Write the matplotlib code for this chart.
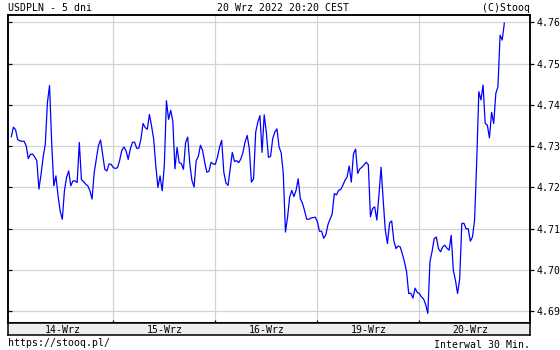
import numpy as np
import matplotlib
matplotlib.use('Agg')
import matplotlib.pyplot as plt

plt.rcParams['font.family'] = ['DejaVu Sans Mono']

# ---- data ----
day_labels = ['14-Wrz', '15-Wrz', '16-Wrz', '19-Wrz', '20-Wrz']
interval_min = 30

d14 = [4.7323, 4.7346, 4.7340, 4.7316, 4.7313, 4.7312, 4.7312, 4.7301, 4.7270, 4.7280,
       4.7281, 4.7274, 4.7265, 4.7196, 4.7232, 4.7274, 4.7305, 4.7406, 4.7447, 4.7309,
       4.7204, 4.7228, 4.7180, 4.7143, 4.7123, 4.7192, 4.7224, 4.7240, 4.7204, 4.7216,
       4.7216, 4.7212, 4.7309, 4.7219, 4.7214, 4.7208, 4.7204, 4.7192, 4.7172, 4.7236,
       4.7269, 4.7301, 4.7315, 4.7279, 4.7244, 4.7240, 4.7257, 4.7256]
d15 = [4.7248, 4.7246, 4.7248, 4.7266, 4.7290, 4.7298, 4.7289, 4.7268, 4.7293, 4.7309,
       4.7310, 4.7295, 4.7295, 4.7317, 4.7355, 4.7345, 4.7341, 4.7377, 4.7349, 4.7317,
       4.7252, 4.7200, 4.7228, 4.7192, 4.7252, 4.7410, 4.7365, 4.7387, 4.7361, 4.7245,
       4.7297, 4.7260, 4.7258, 4.7244, 4.7308, 4.7322, 4.7257, 4.7217, 4.7201, 4.7265,
       4.7275, 4.7302, 4.7290, 4.7261, 4.7237, 4.7239, 4.7261, 4.7257]
d16 = [4.7256, 4.7273, 4.7298, 4.7314, 4.7237, 4.7211, 4.7205, 4.7244, 4.7285, 4.7263,
       4.7265, 4.7260, 4.7269, 4.7285, 4.7310, 4.7326, 4.7294, 4.7213, 4.7221, 4.7334,
       4.7358, 4.7374, 4.7285, 4.7376, 4.7334, 4.7273, 4.7275, 4.7318, 4.7334, 4.7342,
       4.7298, 4.7284, 4.7233, 4.7092, 4.7128, 4.7177, 4.7193, 4.7178, 4.7193, 4.7221,
       4.7173, 4.7162, 4.7144, 4.7123, 4.7123, 4.7126, 4.7127, 4.7128]
d19 = [4.7118, 4.7094, 4.7094, 4.7077, 4.7085, 4.7110, 4.7123, 4.7136, 4.7185, 4.7182,
       4.7193, 4.7195, 4.7205, 4.7217, 4.7225, 4.7252, 4.7213, 4.7281, 4.7293, 4.7234,
       4.7245, 4.7249, 4.7255, 4.7261, 4.7255, 4.7129, 4.7149, 4.7153, 4.7121, 4.7181,
       4.7249, 4.7169, 4.7096, 4.7064, 4.7114, 4.7119, 4.7071, 4.7052, 4.7058, 4.7056,
       4.7039, 4.7020, 4.6996, 4.6943, 4.6944, 4.6932, 4.6956, 4.6946]
d20 = [4.6943, 4.6935, 4.6930, 4.6916, 4.6895, 4.7020, 4.7045, 4.7076, 4.7080, 4.7052,
       4.7044, 4.7056, 4.7060, 4.7053, 4.7048, 4.7084, 4.6999, 4.6975, 4.6943, 4.6979,
       4.7113, 4.7113, 4.7100, 4.7100, 4.7070, 4.7080, 4.7121, 4.7262, 4.7432, 4.7412,
       4.7448, 4.7355, 4.7351, 4.7320, 4.7382, 4.7355, 4.7428, 4.7444, 4.7569, 4.7557,
       4.7598]
series = [d14, d15, d16, d19, d20]
y_ticks = [4.69, 4.70, 4.71, 4.72, 4.73, 4.74, 4.75, 4.76]

values = np.concatenate([np.asarray(s) for s in series])
t = np.arange(len(values)) * interval_min / (24 * 60)  # trading days

W, H = 560, 350
fig = plt.figure(figsize=(W / 100, H / 100), dpi=100)
fig.patch.set_facecolor('white')


def rect(x0, y0, x1, y1):
    return [x0 / W, 1 - y1 / H, (x1 - x0) / W, (y1 - y0) / H]


XLIM = (-0.0294, 5.085)
YLIM = (4.68717, 4.7617)
FS = 7.1

ax = fig.add_axes(rect(8.3, 15.3, 530, 323))
ax.plot(t, values, color='#0000ff', lw=0.9, zorder=3)
ax.set_xlim(*XLIM)
ax.set_ylim(*YLIM)
ax.set_yticks(y_ticks)
ax.set_xticks(np.arange(1, len(series)))
ax.grid(True, color='#d4d4d4', lw=0.9, zorder=0)
ax.tick_params(axis='y', direction='in', length=3, width=0.9, left=True,
               labelleft=False, right=False)
ax.tick_params(axis='x', direction='in', length=2.5, width=0.9, labelbottom=False)
for s in ax.spines.values():
    s.set_linewidth(1.1)

ax2 = ax.twinx()
ax2.set_ylim(*YLIM)
ax2.set_yticks(y_ticks)
ax2.set_yticklabels([f'{v:.2f}' for v in y_ticks])
ax2.tick_params(axis='y', direction='out', length=3, width=0.9, pad=2,
                labelsize=FS)
for s in ax2.spines.values():
    s.set_linewidth(1.1)

band = fig.add_axes(rect(8.3, 323, 530, 335.3))
band.set_facecolor('#eeeeee')
band.set_xlim(*XLIM)
band.set_ylim(0, 1)
band.set_xticks([])
band.set_yticks([])
for s in band.spines.values():
    s.set_linewidth(1.1)
for i, lab in enumerate(day_labels):
    band.text(i + 0.5, 0.19, lab, ha='center', va='baseline', fontsize=FS,
              transform=band.get_xaxis_transform())

fig.text(8.3 / W, 1 - 10.7 / H, 'USDPLN - 5 dni', ha='left', va='baseline', fontsize=FS)
fig.text(283 / W, 1 - 10.7 / H, '20 Wrz 2022 20:20 CEST', ha='center', va='baseline', fontsize=FS)
fig.text(530 / W, 1 - 10.7 / H, '(C)Stooq', ha='right', va='baseline', fontsize=FS)
fig.text(8.3 / W, 1 - 345.5 / H, 'https://stooq.pl/', ha='left', va='baseline', fontsize=FS)
fig.text(530 / W, 1 - 347.5 / H, 'Interwal 30 Min.', ha='right', va='baseline', fontsize=FS)

fig.savefig('out.png', dpi=100)
